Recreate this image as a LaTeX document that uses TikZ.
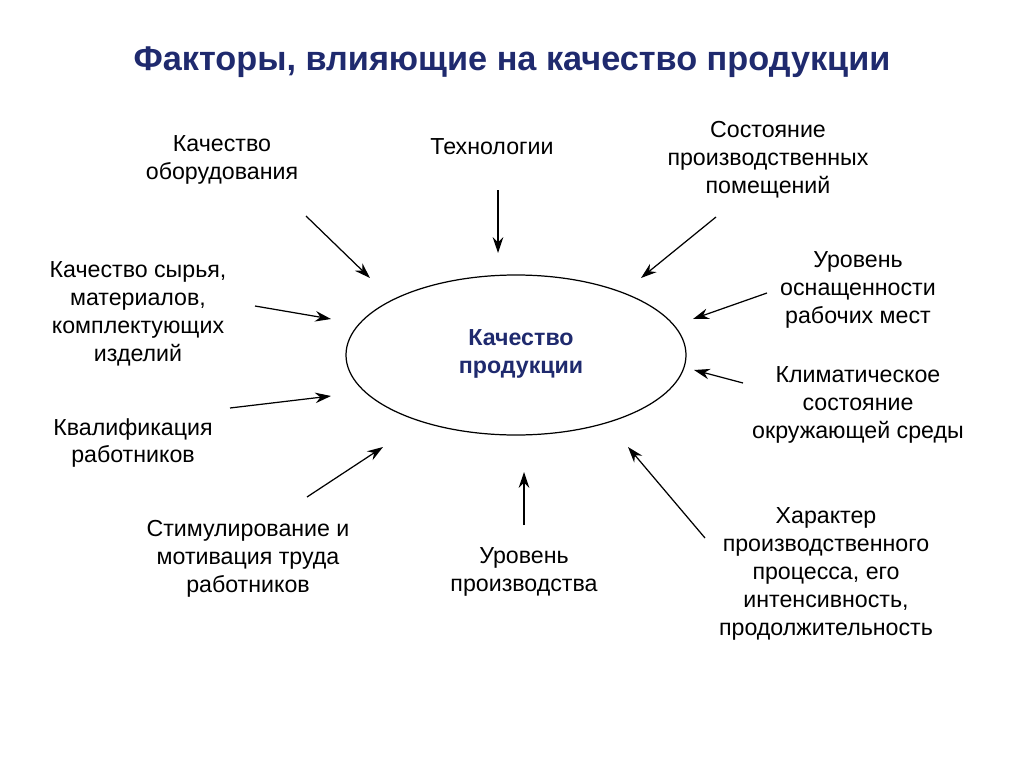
\documentclass[tikz,border=0pt]{standalone}
\usepackage{fontspec}
\setmainfont{Liberation Sans}
\usetikzlibrary{arrows.meta,positioning}
\definecolor{titleblue}{HTML}{1F2A6E}

\begin{document}
\begin{tikzpicture}[x=0.02cm, y=-0.02cm,
	factor/.style={align=center, font=\fontsize{13.2}{15.9}\selectfont, text=black},
	arr/.style={-{Stealth[length=9pt,width=6pt]}, line width=0.7pt}]
	\useasboundingbox[fill=white] (0,0) rectangle (1024,767);
	\node[font=\fontsize{19.5}{22}\selectfont\bfseries, text=titleblue] (title) at (512,62) {Факторы, влияющие на качество продукции};
	\draw[line width=0.7pt] (516,355) ellipse (170 and 80);
	\node[align=center, font=\fontsize{13.2}{15.9}\selectfont\bfseries, text=titleblue] (center) at (521,354) {Качество\\продукции};
	\node[factor] (equip) at (222,160) {Качество\\оборудования};
	\node[factor] (tech) at (492,147) {Технологии};
	\node[factor] (rooms) at (768,160) {Состояние\\производственных\\помещений};
	\node[factor] (raw) at (138,314) {Качество сырья,\\материалов,\\комплектующих\\изделий};
	\node[factor] (equipment) at (858,290) {Уровень\\оснащенности\\рабочих мест};
	\node[factor] (skill) at (133,443) {Квалификация\\работников};
	\node[factor] (climate) at (858,405) {Климатическое\\состояние\\окружающей среды};
	\node[factor] (motiv) at (248,559) {Стимулирование и\\мотивация труда\\работников};
	\node[factor] (level) at (524,572) {Уровень\\производства};
	\node[factor] (process) at (826,574) {Характер\\производственного\\процесса, его\\интенсивность,\\продолжительность};
	% arrow ends
	\coordinate (a1) at (306,216); \coordinate (b1) at (370,278);
	\coordinate (a2) at (498,190); \coordinate (b2) at (498,253);
	\coordinate (a3) at (716,217); \coordinate (b3) at (641,278);
	\coordinate (a4) at (255,306); \coordinate (b4) at (331,319);
	\coordinate (a5) at (767,293); \coordinate (b5) at (693,319);
	\coordinate (a6) at (230,408); \coordinate (b6) at (331,396);
	\coordinate (a7) at (743,383); \coordinate (b7) at (694,370);
	\coordinate (a8) at (307,497); \coordinate (b8) at (383,447);
	\coordinate (a9) at (524,525); \coordinate (b9) at (524,472);
	\coordinate (a10) at (705,538); \coordinate (b10) at (628,447);
	\foreach \i in {1,...,10}
		\draw[arr] (a\i) -- (b\i);
\end{tikzpicture}
\end{document}
